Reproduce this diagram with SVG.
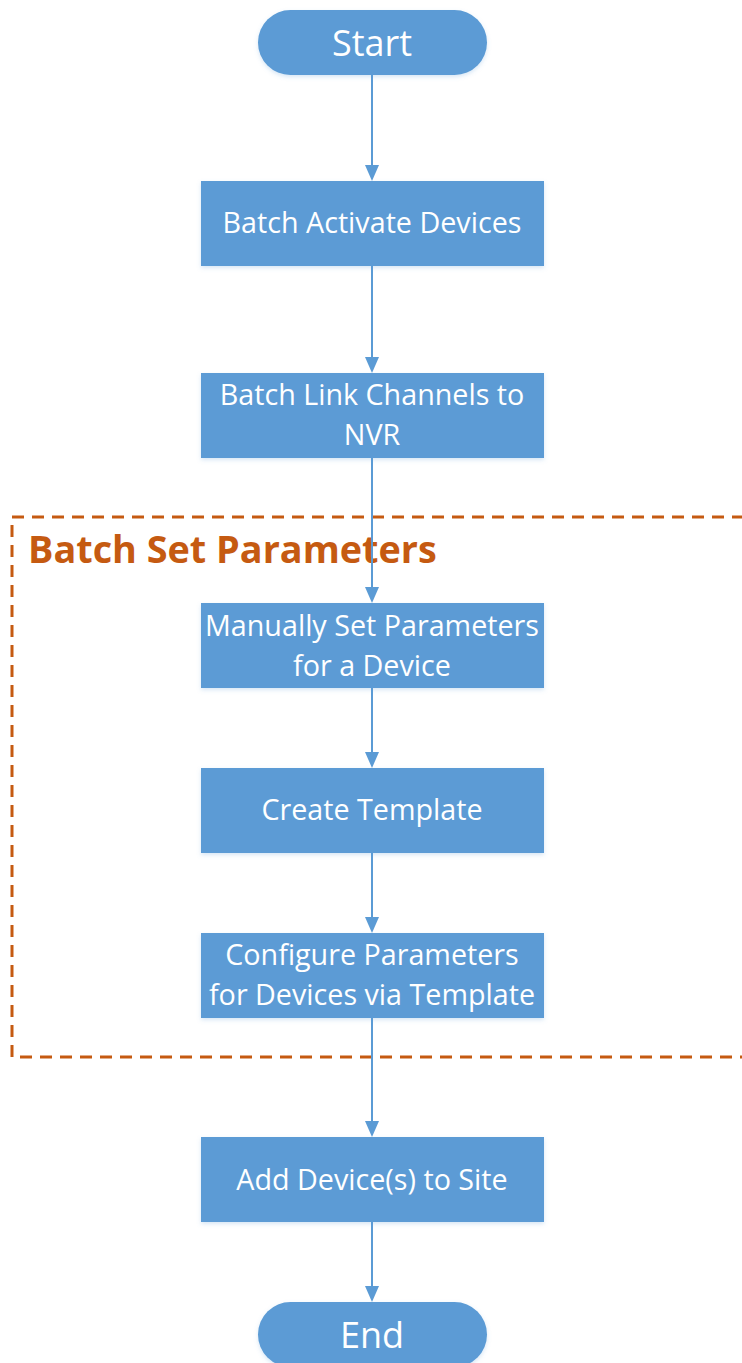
<svg xmlns="http://www.w3.org/2000/svg" width="742" height="1363" viewBox="0 0 742 1363">
<defs>
<style>
.n{fill:#5B9BD5;filter:url(#sh)}
.t{font-family:"Open Sans","Liberation Sans",sans-serif;font-size:28.7px;fill:#fff;text-anchor:middle}
.tt{font-family:"Open Sans","Liberation Sans",sans-serif;font-size:36px;fill:#fff;text-anchor:middle}
.c{stroke:#5B9BD5;stroke-width:2;fill:none}
.a{fill:#5B9BD5}
</style>
<filter id="sh" x="-10%" y="-10%" width="120%" height="130%">
<feDropShadow dx="0" dy="2" stdDeviation="2" flood-color="#5B9BD5" flood-opacity="0.25"/>
</filter>
</defs>
<g id="group-batch">
<rect x="12" y="517" width="740" height="540" fill="none" stroke="#C55A11" stroke-width="3" stroke-dasharray="12,8"/>
<text x="28" y="563" font-family="Open Sans,Liberation Sans,sans-serif" font-size="37.8" font-weight="bold" fill="#C55A11">Batch Set Parameters</text>
</g>
<g id="connectors">
<path class="c" d="M372,75 V170"/>
<path class="a" d="M365,165 L379,165 L372,181 Z"/>
<path class="c" d="M372,266 V362"/>
<path class="a" d="M365,357 L379,357 L372,373 Z"/>
<path class="c" d="M372,458 V592"/>
<path class="a" d="M365,587 L379,587 L372,603 Z"/>
<path class="c" d="M372,688 V757"/>
<path class="a" d="M365,752 L379,752 L372,768 Z"/>
<path class="c" d="M372,853 V922"/>
<path class="a" d="M365,917 L379,917 L372,933 Z"/>
<path class="c" d="M372,1018 V1126"/>
<path class="a" d="M365,1121 L379,1121 L372,1137 Z"/>
<path class="c" d="M372,1222 V1291"/>
<path class="a" d="M365,1286 L379,1286 L372,1302 Z"/>
</g>
<g id="start">
<rect class="n" x="258" y="10" width="229" height="65" rx="32.5"/>
<text class="tt" x="372" y="56">Start</text>
</g>
<g id="activate">
<rect class="n" x="201" y="181" width="343" height="85"/>
<text class="t" x="372" y="233">Batch Activate Devices</text>
</g>
<g id="link">
<rect class="n" x="201" y="373" width="343" height="85"/>
<text class="t" x="372" y="405">Batch Link Channels to</text>
<text class="t" x="372" y="445">NVR</text>
</g>
<g id="manual">
<rect class="n" x="201" y="603" width="343" height="85"/>
<text class="t" x="372" y="636">Manually Set Parameters</text>
<text class="t" x="372" y="676">for a Device</text>
</g>
<g id="template">
<rect class="n" x="201" y="768" width="343" height="85"/>
<text class="t" x="372" y="820">Create Template</text>
</g>
<g id="configure">
<rect class="n" x="201" y="933" width="343" height="85"/>
<text class="t" x="372" y="965">Configure Parameters</text>
<text class="t" x="372" y="1005">for Devices via Template</text>
</g>
<g id="add">
<rect class="n" x="201" y="1137" width="343" height="85"/>
<text class="t" x="372" y="1190">Add Device(s) to Site</text>
</g>
<g id="end">
<rect class="n" x="258" y="1302" width="229" height="65" rx="32.5"/>
<text class="tt" x="372" y="1348">End</text>
</g>
</svg>
